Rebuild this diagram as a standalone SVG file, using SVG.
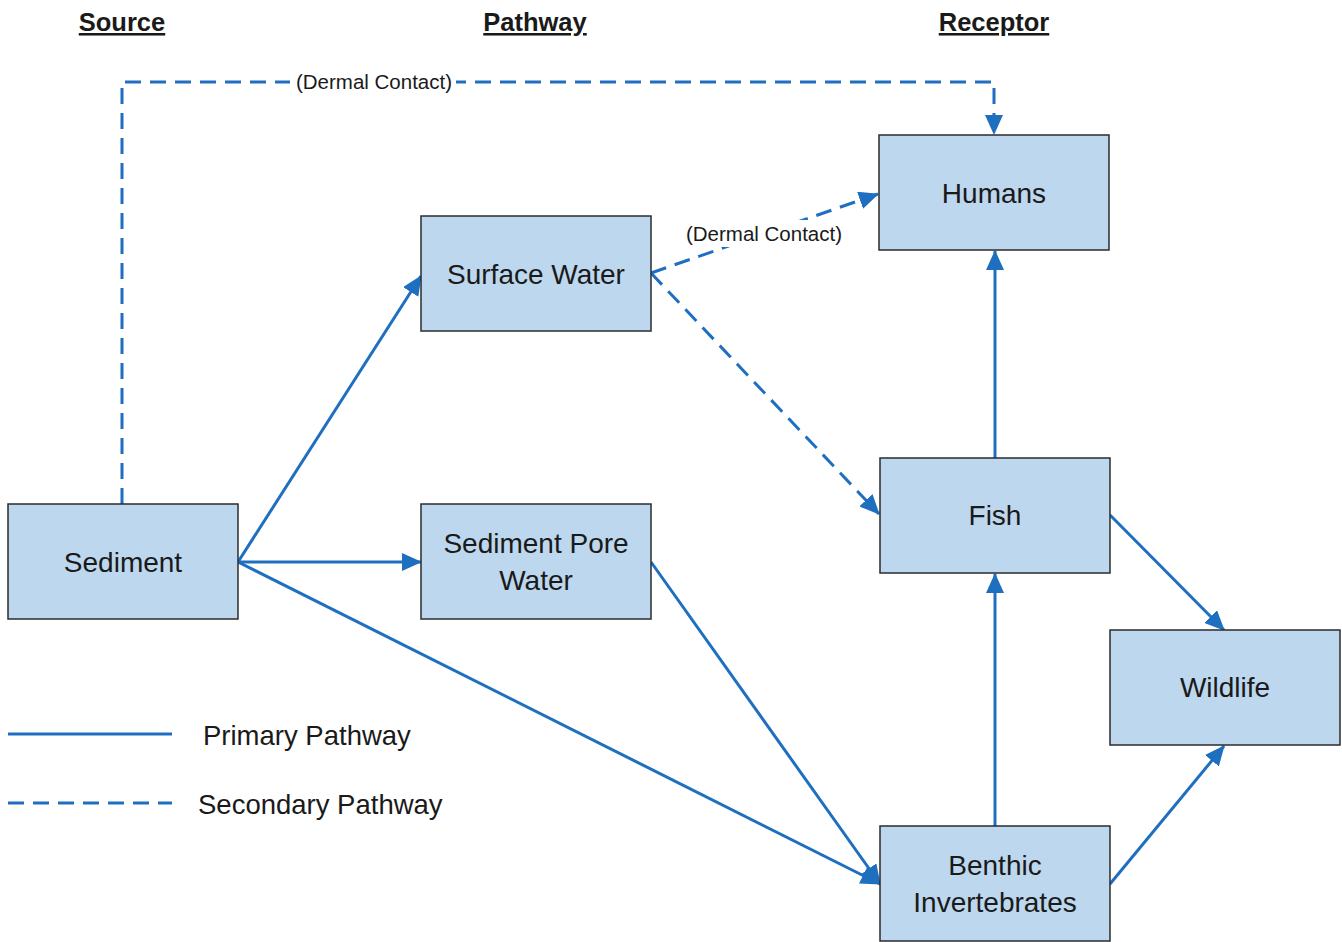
<svg xmlns="http://www.w3.org/2000/svg" width="1342" height="942" viewBox="0 0 1342 942">
<defs>
<style>
.box{fill:#bdd7ee;stroke:#2b2b2b;stroke-width:1.5}
.lbl{font-family:"Liberation Sans",Arial,sans-serif;font-size:28px;fill:#1a1a1a;text-anchor:middle}
.hdr{font-family:"Liberation Sans",Arial,sans-serif;font-size:25.5px;font-weight:bold;fill:#1a1a1a;text-anchor:middle;text-decoration:underline}
.small{font-family:"Liberation Sans",Arial,sans-serif;font-size:20.5px;fill:#1a1a1a;text-anchor:middle}
.leg{font-family:"Liberation Sans",Arial,sans-serif;font-size:27.5px;fill:#1a1a1a}
.c{fill:none;stroke:#1f6fc0;stroke-width:3}
.d{stroke-dasharray:16 9}
</style>
<marker id="ah" viewBox="0 0 20 18" refX="19" refY="9" markerWidth="20" markerHeight="18" orient="auto" markerUnits="userSpaceOnUse">
<path d="M0,0 L20,9 L0,18 z" fill="#1f6fc0"/>
</marker>
</defs>
<rect width="1342" height="942" fill="#ffffff"/>
<g id="headers">
<text class="hdr" x="122" y="31">Source</text>
<text class="hdr" x="535" y="31">Pathway</text>
<text class="hdr" x="994" y="31">Receptor</text>
</g>
<g id="connectors">
<path class="c d" d="M122,504 L122,82 L994,82 L994,134" marker-end="url(#ah)"/>
<rect x="290" y="68" width="166" height="26" fill="#ffffff"/>
<text class="small" x="374" y="89">(Dermal Contact)</text>
<path class="c d" d="M651,273 L878,194" marker-end="url(#ah)"/>
<rect x="682" y="220" width="164" height="27" fill="#ffffff"/>
<text class="small" x="764" y="241">(Dermal Contact)</text>
<path class="c d" d="M651,273 L879,514" marker-end="url(#ah)"/>
<path class="c" d="M238,562 L421,276" marker-end="url(#ah)"/>
<path class="c" d="M238,562 L421,562" marker-end="url(#ah)"/>
<path class="c" d="M238,562 L880,884" marker-end="url(#ah)"/>
<path class="c" d="M651,562 L880,884" marker-end="url(#ah)"/>
<path class="c" d="M995,458 L995,251" marker-end="url(#ah)"/>
<path class="c" d="M995,826 L995,574" marker-end="url(#ah)"/>
<path class="c" d="M1110,515 L1224,630" marker-end="url(#ah)"/>
<path class="c" d="M1110,884 L1224,746" marker-end="url(#ah)"/>
</g>
<g id="sediment"><rect class="box" x="8" y="504" width="230" height="115"/><text class="lbl" x="123" y="572">Sediment</text></g>
<g id="surface-water"><rect class="box" x="421" y="216" width="230" height="115"/><text class="lbl" x="536" y="284">Surface Water</text></g>
<g id="sediment-pore-water"><rect class="box" x="421" y="504" width="230" height="115"/><text class="lbl" x="536" y="553">Sediment Pore</text><text class="lbl" x="536" y="590">Water</text></g>
<g id="humans"><rect class="box" x="879" y="135" width="230" height="115"/><text class="lbl" x="994" y="203">Humans</text></g>
<g id="fish"><rect class="box" x="880" y="458" width="230" height="115"/><text class="lbl" x="995" y="525">Fish</text></g>
<g id="wildlife"><rect class="box" x="1110" y="630" width="230" height="115"/><text class="lbl" x="1225" y="697">Wildlife</text></g>
<g id="benthic-invertebrates"><rect class="box" x="880" y="826" width="230" height="115"/><text class="lbl" x="995" y="875">Benthic</text><text class="lbl" x="995" y="912">Invertebrates</text></g>
<g id="legend">
<line class="c" x1="8" y1="734" x2="172" y2="734"/>
<text class="leg" x="203" y="745">Primary Pathway</text>
<line class="c d" x1="8" y1="803" x2="172" y2="803"/>
<text class="leg" x="198" y="814">Secondary Pathway</text>
</g>
</svg>
